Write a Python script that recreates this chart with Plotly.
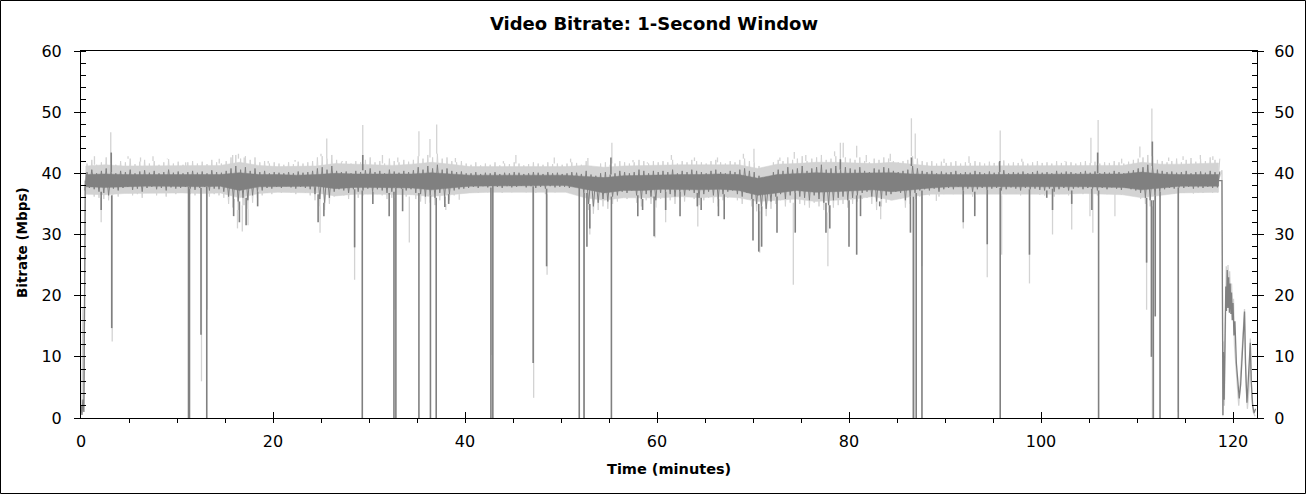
import plotly.graph_objects as go

# ---------------- data ----------------
# per-bin envelopes (spread of the 1-second samples), bins every 0.5 minute starting at t = 0.5
dark_lo = [
 37.2,37.6,37.4,37.0,36.8,36.4,37.5,37.2,37.6,37.8,37.3,37.5,37.0,37.6,37.8,37.4,37.6,37.2,37.7,37.5,
 37.6,37.8,37.5,37.3,37.6,37.8,37.2,37.5,37.4,37.0,36.2,35.8,35.4,36.0,35.6,36.4,37.0,37.2,37.6,37.5,
 37.8,37.6,37.9,37.7,37.5,37.8,37.6,37.4,36.6,35.8,35.2,36.0,37.0,37.4,37.2,36.8,37.4,37.0,37.2,37.5,
 37.0,37.4,37.2,36.8,37.0,37.6,37.5,37.2,37.4,36.8,36.6,36.2,36.4,36.0,36.8,36.2,36.6,37.2,37.4,37.5,
 37.6,37.8,37.6,37.9,37.7,38.0,37.8,37.6,37.9,37.7,37.8,38.0,37.7,37.9,37.6,37.8,37.5,37.9,37.7,37.8,
 37.8,37.6,37.9,37.7,36.8,35.0,34.6,35.2,35.8,35.4,36.2,36.4,37.0,36.8,37.2,36.4,35.8,36.6,36.2,35.6,
 36.8,37.0,36.6,36.2,37.0,36.4,37.2,36.8,36.0,36.6,37.0,36.4,35.8,36.6,37.0,37.2,36.6,36.2,36.8,35.8,
 35.0,34.6,34.2,35.4,36.2,36.6,35.8,36.4,36.8,36.2,36.0,35.6,36.4,35.8,35.2,34.8,35.6,36.0,36.2,35.6,
 36.0,36.4,36.8,37.0,36.2,35.4,35.8,36.4,36.6,37.0,36.8,35.6,36.2,36.8,37.2,37.4,37.2,37.5,37.0,37.4,
 37.6,37.4,37.8,37.2,37.5,37.0,37.4,37.6,37.3,37.5,37.6,37.2,37.4,37.7,37.5,37.2,37.6,37.4,37.5,37.3,
 37.2,37.5,37.0,37.4,37.6,37.2,37.5,37.7,37.4,37.6,37.5,37.2,37.6,37.4,37.7,37.5,37.3,37.6,37.4,37.2,
 36.8,36.0,35.6,36.4,37.0,37.4,37.6,37.5,37.7,37.6,37.8,37.5,37.7,37.6,37.8,37.6,37.7]
dark_hi = [
 40.2,40.6,40.0,40.4,40.8,40.2,40.0,40.4,40.2,40.6,40.0,40.3,40.5,40.1,40.4,40.0,40.2,40.6,40.1,40.3,
 40.0,40.2,40.4,40.1,40.3,40.0,40.5,40.2,40.1,40.4,40.8,41.2,40.6,41.0,40.4,40.8,40.2,40.4,40.0,40.2,
 40.1,40.0,40.2,40.0,40.3,40.1,40.2,40.4,40.8,41.0,40.6,41.2,40.4,40.2,40.3,40.0,40.4,40.2,40.5,40.8,
 40.2,40.4,40.0,40.6,40.3,40.1,40.4,40.2,40.5,41.0,40.6,41.2,40.8,41.4,40.6,40.8,40.4,40.2,40.3,40.0,
 40.0,40.2,39.9,40.1,40.0,40.2,39.9,40.1,40.0,40.2,40.1,39.9,40.0,40.2,40.1,39.9,40.2,40.0,40.1,39.9,
 40.0,40.2,40.1,39.9,40.4,39.8,39.6,40.0,40.2,39.8,40.0,40.4,40.2,40.0,40.2,40.6,40.4,40.0,40.4,40.2,
 40.4,40.2,40.6,40.0,40.4,40.2,40.6,40.4,40.2,40.0,40.4,40.6,40.2,40.0,40.4,40.2,40.6,40.8,40.4,40.2,
 39.6,39.2,39.0,40.2,40.6,40.4,41.0,40.6,40.8,41.2,40.4,40.8,41.0,41.4,40.6,40.8,41.2,40.6,41.0,40.8,
 40.6,41.0,40.4,40.2,40.8,40.6,41.0,40.8,40.4,40.2,40.4,40.6,41.2,40.8,40.4,40.2,40.4,40.0,40.3,40.1,
 40.2,40.4,40.0,40.2,40.1,40.4,40.2,40.0,40.3,40.1,40.2,40.5,40.0,40.2,40.1,40.3,40.0,40.2,40.4,40.1,
 40.2,40.0,40.4,40.1,40.3,40.2,40.0,40.2,40.4,40.1,40.3,40.0,40.2,40.1,40.4,40.2,40.0,40.3,40.5,40.8,
 41.0,41.4,41.2,40.6,40.4,40.2,40.3,40.1,40.2,40.4,40.0,40.2,40.3,40.1,40.4,40.2,40.3]
light_lo = [
 36.4,36.8,36.2,36.0,35.8,35.6,36.6,36.2,36.8,37.0,36.4,36.6,36.0,36.8,37.0,36.4,36.8,36.2,36.9,36.6,
 36.8,37.0,36.6,36.4,36.8,37.0,36.2,36.6,36.4,36.0,35.0,34.4,34.0,34.8,34.2,35.2,36.0,36.4,36.8,36.6,
 37.0,36.8,37.1,36.9,36.6,37.0,36.8,36.4,35.6,34.6,34.0,35.0,36.2,36.6,36.4,35.8,36.6,36.0,36.4,36.6,
 36.2,36.6,36.4,35.8,36.0,36.8,36.6,36.2,36.6,35.8,35.4,35.0,35.2,34.8,35.6,35.0,35.6,36.4,36.6,36.8,
 36.8,37.0,36.8,37.2,36.9,37.2,37.0,36.8,37.1,36.9,37.0,37.2,36.9,37.1,36.8,37.0,36.6,37.1,36.9,37.0,
 37.0,36.8,37.1,36.9,35.8,34.0,33.4,34.0,34.6,34.2,35.0,35.4,36.0,35.8,36.2,35.2,34.6,35.6,35.0,34.4,
 35.8,36.0,35.6,35.0,36.0,35.4,36.2,35.8,34.8,35.6,36.0,35.2,34.6,35.6,36.0,36.2,35.6,35.0,35.8,34.6,
 33.8,33.4,33.0,34.2,35.0,35.6,34.6,35.2,35.8,35.0,34.8,34.4,35.2,34.6,34.0,33.6,34.4,34.8,35.0,34.4,
 35.0,35.4,35.8,36.0,35.0,34.0,34.6,35.2,35.6,36.0,35.8,34.4,35.0,35.8,36.2,36.6,36.4,36.8,36.2,36.6,
 36.8,36.6,37.0,36.4,36.8,36.2,36.6,36.8,36.5,36.8,36.8,36.4,36.6,36.9,36.7,36.4,36.8,36.6,36.7,36.5,
 36.4,36.7,36.2,36.6,36.8,36.4,36.7,36.9,36.6,36.8,36.7,36.4,36.8,36.6,36.9,36.7,36.5,36.8,36.6,36.4,
 35.8,35.0,34.6,35.4,36.2,36.6,36.8,36.7,36.9,36.8,37.0,36.7,36.9,36.8,37.0,36.8,36.9]
light_hi = [
 41.6,42.2,41.4,41.8,42.6,41.6,41.4,42.0,41.8,42.4,41.5,41.9,42.2,41.6,42.0,41.4,41.8,42.3,41.6,41.9,
 41.4,41.8,42.0,41.6,41.9,41.5,42.2,41.8,41.6,42.0,42.6,43.0,42.4,42.8,42.2,42.6,41.8,42.0,41.6,41.8,
 41.6,41.4,41.8,41.5,41.9,41.6,41.8,42.0,42.6,42.8,42.4,43.0,42.2,41.8,42.0,41.6,42.0,41.8,42.2,42.6,
 41.8,42.0,41.6,42.4,42.0,41.8,42.2,41.9,42.2,42.8,42.4,43.0,42.6,43.2,42.4,42.6,42.0,41.8,42.0,41.6,
 41.4,41.8,41.3,41.6,41.4,41.8,41.3,41.6,41.5,41.8,41.6,41.3,41.5,41.8,41.6,41.4,41.8,41.5,41.6,41.4,
 41.6,41.8,41.7,41.4,42.0,41.2,41.0,41.6,41.8,41.4,41.6,42.0,41.8,41.6,41.8,42.2,42.0,41.6,42.0,41.8,
 42.0,41.8,42.2,41.6,42.0,41.8,42.2,42.0,41.8,41.6,42.0,42.2,41.8,41.6,42.0,41.8,42.2,42.4,42.0,41.8,
 41.2,40.8,40.6,41.8,42.2,42.0,42.6,42.2,42.4,42.8,42.0,42.4,42.6,43.0,42.2,42.4,42.8,42.2,42.6,42.4,
 42.2,42.6,42.0,41.8,42.4,42.2,42.6,42.4,42.0,41.8,42.0,42.2,42.8,42.4,42.0,41.8,42.0,41.6,41.9,41.7,
 41.8,42.0,41.6,41.8,41.7,42.0,41.8,41.6,41.9,41.7,41.8,42.1,41.6,41.8,41.7,41.9,41.6,41.8,42.0,41.7,
 41.8,41.6,42.0,41.7,41.9,41.8,41.6,41.8,42.0,41.7,41.9,41.6,41.8,41.7,42.0,41.8,41.6,41.9,42.2,42.4,
 42.6,43.0,42.8,42.2,42.0,41.8,42.0,42.4,41.8,42.2,42.5,41.9,42.3,42.0,42.6,42.2,42.4]

# dense core of each series, every 2 minutes starting at t = 0.5
light_core_lo = [36.6,36.5,36.7,36.8,36.8, 36.8,36.7,36.8,36.0,36.7, 36.9,36.9,36.8,36.3,36.6, 36.6,36.6,36.5,36.2,36.5,
                 36.8,36.9,36.9,37.0,36.9, 36.9,36.0,35.6,36.0,36.0, 36.0,36.2,36.0,36.2,36.0, 35.4,35.6,35.8,35.4,35.6,
                 35.8,36.2,35.6,36.2,36.6, 36.7,36.7,36.7,36.7,36.6, 36.6,36.6,36.7,36.6,36.5, 36.0,36.4,36.8,36.9,36.9]
light_core_hi = [41.2,41.4,41.2,41.2,41.3, 41.2,41.2,41.3,41.8,41.3, 41.1,41.1,41.2,41.6,41.5, 41.4,41.3,41.5,41.8,41.5,
                 41.1,41.1,41.1,41.1,41.1, 41.1,41.3,41.0,41.2,41.3, 41.4,41.4,41.4,41.4,41.4, 40.8,41.5,41.6,41.8,41.8,
                 41.7,41.6,41.8,41.5,41.2, 41.2,41.2,41.2,41.2,41.3, 41.3,41.3,41.3,41.3,41.3, 41.8,41.5,41.5,41.6,41.7]
dark_core_lo = [37.8,37.7,37.8,37.9,37.9, 37.9,37.8,37.9,37.2,37.8, 37.9,37.9,37.9,37.5,37.7, 37.7,37.7,37.6,37.3,37.6,
                37.9,38.0,38.0,38.0,38.0, 38.0,37.4,36.8,37.2,37.2, 37.4,37.4,37.3,37.4,37.2, 36.4,36.8,37.2,36.9,37.0,
                37.1,37.3,37.0,37.3,37.6, 37.8,37.8,37.8,37.8,37.8, 37.8,37.8,37.8,37.8,37.7, 37.3,37.6,37.9,37.9,37.9]
dark_core_hi = [39.8,39.9,39.8,39.8,39.8, 39.8,39.8,39.8,40.1,39.8, 39.8,39.7,39.8,40.0,39.9, 39.9,39.9,39.9,40.1,39.9,
                39.7,39.7,39.7,39.7,39.7, 39.7,39.5,39.3,39.6,39.7, 39.8,39.8,39.8,39.9,39.8, 39.2,39.8,40.0,40.1,40.0,
                40.0,40.0,40.1,39.9,39.8, 39.8,39.8,39.8,39.8,39.8, 39.8,39.8,39.8,39.8,39.9, 40.2,39.9,39.8,39.8,39.8]

# isolated extremes (minutes, Mbps)
dark_ev_t = [2.1,3.15,3.2,11.2,11.3,12.5,13.1,15.9,16.5,17.2,18.4,24.7,25.3,28.5,29.3,29.35,30.4,32.1,32.6,32.8,
             33.5,35.2,36.4,37.0,37.9,38.3,42.7,42.9,47.1,48.5,51.9,52.4,52.7,53.0,55.2,55.25,58.0,58.5,59.7,60.9,
             62.4,64.2,64.6,66.4,67.0,70.0,70.6,70.9,72.5,74.4,77.6,78.0,79.1,80.0,80.8,81.2,83.2,86.4,86.5,86.7,
             87.0,87.6,91.9,93.1,94.4,95.7,95.75,98.8,100.6,101.2,103.2,105.3,105.9,106.0,111.0,111.5,111.6,111.7,
             111.9,112.4,114.3]
dark_ev_v = [34.0,43.4,14.7,0.0,0.0,13.6,0.0,33.0,32.0,31.5,34.6,32.0,33.0,27.9,0.0,43.0,35.0,33.0,0.0,0.0,
             33.8,0.0,0.0,0.0,34.5,35.0,0.0,0.0,9.0,24.8,0.0,0.0,28.0,31.0,42.6,0.0,33.0,34.0,29.7,34.0,
             33.0,34.6,34.0,33.0,32.5,29.0,27.2,28.0,30.3,30.3,30.3,31.0,42.3,28.0,26.7,33.0,34.6,30.3,42.6,0.0,
             0.0,0.0,32.0,33.0,28.4,42.0,0.0,26.7,36.0,34.0,35.0,34.0,43.4,0.0,25.4,10.0,45.2,0.0,
             16.6,0.0,0.0]
light_ev_t = [1.4,2.1,3.1,3.25,4.9,6.2,7.5,9.0,10.9,11.25,12.55,13.15,14.4,15.8,16.3,16.4,16.8,17.0,17.4,19.5,
              22.3,24.9,25.0,25.6,27.2,28.5,29.35,31.4,32.7,33.0,34.2,35.2,36.35,37.05,38.0,39.0,39.4,42.8,44.0,45.3,
              47.15,48.55,49.3,51.0,52.4,52.8,53.0,55.3,57.5,59.0,59.8,60.9,61.5,63.9,64.25,66.3,67.7,69.0,70.1,70.7,
              72.8,74.2,74.3,75.5,77.8,78.5,79.1,79.4,80.8,81.8,83.3,84.3,86.5,86.8,86.9,87.6,89.1,89.9,91.9,92.5,
              93.1,94.4,95.75,95.9,98.0,98.8,101.2,102.5,103.2,105.1,105.2,105.4,105.95,107.7,108.4,110.3,111.0,111.55,111.6,113.3,
              114.3,114.8,116.6,117.9]
light_ev_v = [42.8,32.0,46.7,12.5,42.8,42.6,42.8,42.4,41.8,14.4,6.0,17.7,42.4,43.0,31.0,43.2,30.5,42.6,31.5,42.0,
              42.2,30.3,43.2,45.7,42.0,22.6,47.9,43.0,17.7,42.6,28.7,46.9,45.6,48.0,34.0,42.5,35.7,10.3,42.0,43.0,
              3.3,23.4,42.6,42.4,0.0,42.5,30.0,45.0,42.2,41.8,29.5,32.0,43.0,42.6,31.3,42.6,36.0,43.2,44.0,27.0,
              42.6,21.8,43.5,43.0,24.8,43.6,45.0,45.0,44.5,43.0,32.5,43.2,49.0,0.0,46.5,24.8,35.5,42.4,31.0,42.8,
              34.0,23.0,47.0,26.7,42.4,22.0,30.0,42.0,30.8,33.0,45.8,30.3,48.7,33.0,42.4,44.4,17.7,50.6,0.0,42.6,
              1.0,42.8,43.0,42.8]

# start of the programme and the final credits section
start_t = [0.0, 0.1, 0.2, 0.3, 0.45]
start_dark = [2.0, 0.5, 3.0, 1.0, 38.8]
start_light = [3.0, 1.0, 18.0, 2.0, 39.0]
end_dark_t = [118.5,118.85,118.95,119.0,119.08,119.15,119.25,119.32,119.4,119.47,119.55,119.62,119.7,119.78,119.85,
              119.92,120.0,120.1,120.2,120.35,120.5,120.65,120.8,120.95,121.1,121.2,121.3,121.45,121.55,121.7,
              121.8,121.9,122.05,122.2,122.35]
end_dark_v = [38.8,38.8,0.5,10.8,3.0,12.0,21.5,17.5,24.2,18.0,23.0,17.2,22.0,17.0,20.5,16.0,18.8,13.5,15.8,9.0,6.0,
              3.2,5.5,9.5,13.0,17.4,9.0,2.5,5.0,9.0,12.3,6.0,2.0,0.8,1.5]
end_light_t = [118.5,118.85,118.95,119.0,119.1,119.2,119.3,119.4,119.48,119.56,119.65,119.75,119.85,119.95,120.05,
               120.15,120.3,120.45,120.6,120.75,120.9,121.05,121.2,121.35,121.5,121.65,121.8,121.95,122.1,122.3]
end_light_v = [39.0,40.5,0.3,12.5,2.0,14.0,24.8,19.5,25.0,19.0,24.0,18.5,22.0,16.5,19.5,12.0,8.0,4.5,2.0,6.0,10.5,
               14.0,17.8,6.0,1.5,4.5,13.0,3.5,1.0,0.3]

BIN_STEP = 0.5
CORE_STEP = 2.0
bin_t = [0.5 + BIN_STEP * k for k in range(len(dark_lo))]
core_t = [0.5 + CORE_STEP * k for k in range(len(dark_core_lo))]


def band(ts, lo, hi):
    xs = ts + ts[::-1] + [ts[0]]
    ys = hi + lo[::-1] + [hi[0]]
    return xs, ys


def zig(lo, hi):
    xs, ys = [], []
    for t, a, b in zip(bin_t, lo, hi):
        xs += [t - BIN_STEP / 4, t + BIN_STEP / 4]
        ys += [a, b]
    return xs, ys


def spikes(ev_t, ev_v, lo, hi):
    xs, ys = [], []
    for t, v in zip(ev_t, ev_v):
        k = min(max(int(round((t - 0.5) / BIN_STEP)), 0), len(lo) - 1)
        base = hi[k] if v > hi[k] else lo[k]
        xs += [t, t, None]
        ys += [base, v, None]
    return xs, ys


LIGHT = "#d3d3d3"
DARK = "#808080"
FONT = "DejaVu Sans"


def line(x, y, color, width, y2=False, fill=None):
    return go.Scatter(x=x, y=y, mode="lines", line=dict(color=color, width=width),
                      fill=fill, fillcolor=color if fill else None,
                      hoverinfo="skip", showlegend=False, yaxis="y2" if y2 else "y")


fig = go.Figure()
# light (peak) series
fig.add_trace(line(*band(core_t, light_core_lo, light_core_hi), LIGHT, 0.5, fill="toself"))
fig.add_trace(line(*zig(light_lo, light_hi), LIGHT, 1))
fig.add_trace(line(*spikes(light_ev_t, light_ev_v, light_lo, light_hi), LIGHT, 1.3))
fig.add_trace(line(start_t + [None] + end_light_t, start_light + [None] + end_light_v, LIGHT, 1.3))
# dark (average) series
fig.add_trace(line(*band(core_t, dark_core_lo, dark_core_hi), DARK, 0.5, y2=True, fill="toself"))
fig.add_trace(line(*zig(dark_lo, dark_hi), DARK, 1, y2=True))
fig.add_trace(line(*spikes(dark_ev_t, dark_ev_v, dark_lo, dark_hi), DARK, 1.6, y2=True))
fig.add_trace(line(start_t + [None] + end_dark_t, start_dark + [None] + end_dark_v, DARK, 1.3, y2=True))

W, H = 1308, 495
ML, MR, MT, MB = 81, 51, 51, 77
PW, PH = W - ML - MR, H - MT - MB

fig.update_layout(
    width=W, height=H,
    margin=dict(l=ML, r=MR, t=MT, b=MB, autoexpand=False),
    paper_bgcolor="white", plot_bgcolor="white",
    font=dict(family=FONT, size=16, color="black"),
    title=dict(text="<b>Video Bitrate: 1-Second Window</b>", x=0.5, xref="container",
               y=1 - 24 / H, yref="container", yanchor="middle", xanchor="center",
               font=dict(family=FONT, size=18, color="black")),
    xaxis=dict(range=[0, 122.5], tick0=0, dtick=20, ticks="inside", ticklen=6, tickcolor="black",
               showline=True, linecolor="black", linewidth=1, mirror=True,
               showgrid=False, zeroline=False, ticklabelstandoff=9,
               minor=dict(dtick=5, ticks="outside", ticklen=4, tickcolor="black", showgrid=False)),
    xaxis2=dict(range=[0, 122.5], tick0=0, dtick=20, ticks="inside", ticklen=6, tickcolor="black",
                overlaying="x", side="top", anchor="y", showline=False, showticklabels=False,
                showgrid=False, zeroline=False,
                minor=dict(dtick=5, ticks="inside", ticklen=3, tickcolor="black", showgrid=False)),
    yaxis=dict(range=[0, 60], tick0=0, dtick=10, ticks="outside", ticklen=6, tickcolor="black",
               showline=True, linecolor="black", linewidth=1, mirror=True,
               showgrid=False, zeroline=False, ticklabelstandoff=9,
               minor=dict(dtick=2, ticks="inside", ticklen=5, tickcolor="black", showgrid=False)),
    yaxis2=dict(range=[0, 60], tick0=0, dtick=10, ticks="outside", ticklen=6, tickcolor="black",
                overlaying="y", side="right", showline=True, linecolor="black", linewidth=1,
                showgrid=False, zeroline=False, ticklabelstandoff=7,
                minor=dict(dtick=2, ticks="inside", ticklen=5, tickcolor="black", showgrid=False)),
    annotations=[
        dict(text="<b>Time (minutes)</b>", xref="paper", yref="paper", x=0.5, y=(418 - 469) / PH,
             xanchor="center", yanchor="middle", showarrow=False, font=dict(family=FONT, size=14.5)),
        dict(text="<b>Bitrate (Mbps)</b>", xref="paper", yref="paper", x=(22 - ML) / PW, y=(418 - 243) / PH,
             xanchor="center", yanchor="middle", textangle=-90, showarrow=False, font=dict(family=FONT, size=13.5)),
    ],
    shapes=[dict(type="rect", xref="paper", yref="paper",
                 x0=(0.5 - ML) / PW, x1=(1305.5 - ML) / PW,
                 y0=(418 - 493.5) / PH, y1=(418 - 0.5) / PH,
                 line=dict(color="black", width=1), fillcolor="rgba(0,0,0,0)", layer="above")],
)

fig.write_html("out.html", config={"displayModeBar": False},
               post_script="document.body.style.margin='0';document.body.style.overflow='hidden';")
